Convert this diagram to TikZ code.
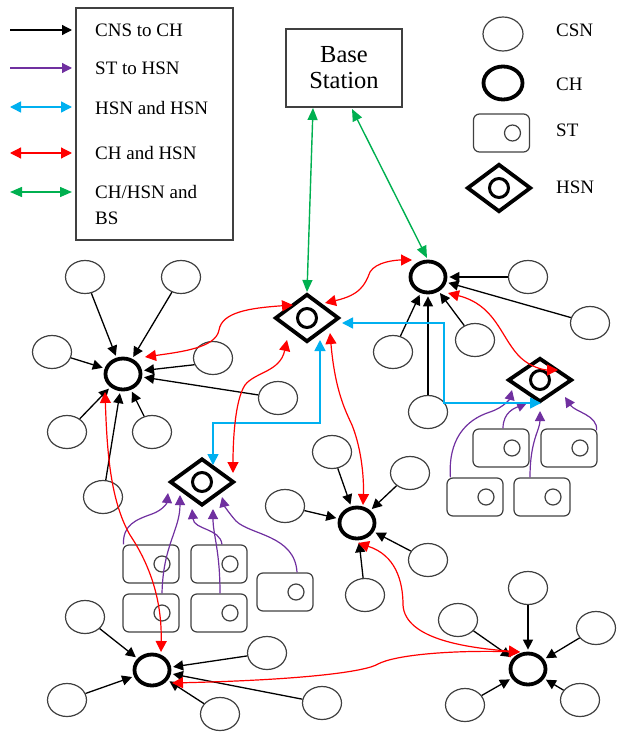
\documentclass[tikz,border=0pt]{standalone}
\usepackage{fontspec}
\setmainfont{Liberation Serif}
\usetikzlibrary{shapes.geometric,arrows.meta}
\definecolor{cred}{HTML}{FF0000}
\definecolor{cblue}{HTML}{00B0F0}
\definecolor{cgreen}{HTML}{00B050}
\definecolor{cpurple}{HTML}{7030A0}
\definecolor{cgray}{HTML}{404040}
\newcommand\stnode[3]{\node[stbox] (#1) at (#2,#3) {};\node[stc] (#1c) at (#2+11,#3) {};}
\newcommand\hsnnode[4]{\node[hsnd,minimum height=#4pt] (#1) at (#2,#3) {};\node[hsnc] (#1c) at (#2,#3) {};}
\begin{document}
\begin{tikzpicture}[x=1pt,y=-1pt,
 csn/.style={ellipse,draw=cgray,line width=1.2pt,minimum width=39pt,minimum height=33pt,inner sep=0pt},
 chn/.style={ellipse,draw=black,line width=3.8pt,minimum width=35pt,minimum height=31pt,inner sep=0pt},
 hsnd/.style={diamond,draw=black,line width=3.8pt,minimum width=64pt,inner sep=0pt},
 hsnc/.style={circle,draw=black,line width=3pt,minimum size=19pt,inner sep=0pt},
 stbox/.style={rectangle,rounded corners=6pt,draw=cgray,line width=1.2pt,minimum width=56pt,minimum height=38pt,inner sep=0pt},
 stc/.style={circle,draw=cgray,line width=1.2pt,minimum size=16pt,inner sep=0pt},
 karr/.style={-{Triangle[length=10pt,width=10pt]},line width=1.3pt,shorten >=2pt},
 parr/.style={-{Triangle[length=10pt,width=10pt]},draw=cpurple,line width=1.2pt},
 rarr/.style={{Triangle[length=11pt,width=11pt]}-{Triangle[length=11pt,width=11pt]},draw=cred,line width=1.2pt},
 barr/.style={{Triangle[length=11pt,width=11pt]}-{Triangle[length=11pt,width=11pt]},draw=cblue,line width=1.6pt},
 garr/.style={{Triangle[length=12pt,width=10pt]}-{Triangle[length=12pt,width=10pt]},draw=cgreen,line width=1.4pt},
 lbl/.style={font=\fontsize{19}{26}\selectfont,anchor=west,inner sep=0pt,align=left},
]
\useasboundingbox (0,0) rectangle (617,733);

% ---------- legend (left) ----------
\node[draw=cgray,line width=1.3pt,minimum width=157pt,minimum height=232pt,inner sep=0pt] (legbox) at (154.5,124) {};
\coordinate (l1a) at (10,30);  \coordinate (l1b) at (72,30);
\coordinate (l2a) at (10,68);  \coordinate (l2b) at (72,68);
\coordinate (l3a) at (10,107); \coordinate (l3b) at (72,107);
\coordinate (l4a) at (10,153); \coordinate (l4b) at (72,153);
\coordinate (l5a) at (10,192); \coordinate (l5b) at (72,192);
\draw[karr,shorten >=0pt] (l1a) -- (l1b);
\draw[parr] (l2a) -- (l2b);
\draw[barr] (l3a) -- (l3b);
\draw[rarr] (l4a) -- (l4b);
\draw[garr] (l5a) -- (l5b);
\node[lbl] (t1) at (95,30) {CNS to CH};
\node[lbl] (t2) at (95,68) {ST to HSN};
\node[lbl] (t3) at (95,108) {HSN and HSN};
\node[lbl] (t4) at (95,153) {CH and HSN};
\node[lbl] (t5) at (95,205) {CH/HSN and\\BS};

% ---------- legend (right) ----------
\node[csn,minimum width=40pt,minimum height=34pt] (lcsn) at (503,34) {};
\node[chn,minimum width=39pt,minimum height=33pt] (lch) at (503,83) {};
\stnode{lst}{501.5}{133}
\hsnnode{lhsn}{499}{188}{48}
\node[lbl] (tcsn) at (556,30) {CSN};
\node[lbl] (tch) at (556,84) {CH};
\node[lbl] (tst) at (556,130) {ST};
\node[lbl] (thsn) at (556,187) {HSN};

% ---------- base station ----------
\node[draw=cgray,line width=1.4pt,minimum width=116pt,minimum height=78pt,inner sep=0pt,align=center,font=\fontsize{24.5}{26}\selectfont] (bs) at (344,68) {Base\\Station};

% ---------- cluster heads ----------
\node[chn] (chA) at (123,374) {};
\node[chn] (chB) at (428,277) {};
\node[chn] (chC) at (357,523) {};
\node[chn] (chD) at (152,670) {};
\node[chn] (chE) at (528,669) {};

% ---------- HSNs ----------
\hsnnode{hsn1}{307}{318}{48}
\hsnnode{hsn2}{540}{380}{44}
\hsnnode{hsn3}{202}{482}{47}

% ---------- STs ----------
\stnode{stL1}{151}{564}
\stnode{stL2}{151}{613}
\stnode{stL3}{219}{564}
\stnode{stL4}{219}{613}
\stnode{stL5}{285}{592}
\stnode{stR1}{501}{448}
\stnode{stR2}{569}{448}
\stnode{stR3}{475}{497}
\stnode{stR4}{542}{497}

% ---------- CSNs ----------
\node[csn] (a1) at (85,277) {};
\node[csn] (a2) at (181,277) {};
\node[csn] (a3) at (52,352) {};
\node[csn] (a4) at (213,358) {};
\node[csn] (a5) at (278,398) {};
\node[csn] (a6) at (67,432) {};
\node[csn] (a7) at (152,432) {};
\node[csn] (a8) at (103,497) {};
\node[csn] (b1) at (528,277) {};
\node[csn] (b2) at (590,323) {};
\node[csn] (b3) at (475,340) {};
\node[csn] (b4) at (393,352) {};
\node[csn] (b5) at (428,412) {};
\node[csn] (c1) at (332,452) {};
\node[csn] (c2) at (410,473) {};
\node[csn] (c3) at (285,506) {};
\node[csn] (c4) at (428,560) {};
\node[csn] (c5) at (365,595) {};
\node[csn] (d1) at (85,617) {};
\node[csn] (d2) at (67,700) {};
\node[csn] (d3) at (220,714) {};
\node[csn] (d4) at (267,653) {};
\node[csn] (d5) at (322,703) {};
\node[csn] (e1) at (528,588) {};
\node[csn] (e2) at (458,620) {};
\node[csn] (e3) at (596,628) {};
\node[csn] (e4) at (465,705) {};
\node[csn] (e5) at (580,700) {};

% ---------- CSN -> CH ----------
\foreach \n in {a1,a2,a3,a5,a6,a7,a8} \draw[karr] (\n) -- (chA);
\draw[karr] (a4.200) -- (chA.10);
\foreach \n in {b1,b2,b3,b4,b5} \draw[karr] (\n) -- (chB);
\foreach \n in {c1,c2,c3,c4,c5} \draw[karr] (\n) -- (chC);
\foreach \n in {d1,d2,d3,d4,d5} \draw[karr] (\n) -- (chD);
\foreach \n in {e1,e2,e3,e4,e5} \draw[karr] (\n) -- (chE);

% ---------- ST -> HSN ----------
\draw[parr] ([shift={(1,0)}]stL1.north west) .. controls (123,525) and (135,520) .. (152,514) .. controls (163,510) and (167,503) .. ([shift={(-34,11)}]hsn3.center);
\draw[parr] ([shift={(11,0)}]stL2.north) .. controls (163,545) and (180,530) .. ([shift={(-22,13)}]hsn3.center);
\draw[parr] ([shift={(3,0)}]stL3.north) .. controls (220,528) and (194,530) .. ([shift={(-10,27)}]hsn3.center);
\draw[parr] ([shift={(1,0)}]stL4.north) .. controls (220,550) and (213,535) .. ([shift={(11,27)}]hsn3.center);
\draw[parr] ([shift={(12,0)}]stL5.north) .. controls (295,535) and (250,535) .. (236,521) .. controls (228,512) and (224,505) .. ([shift={(20,15)}]hsn3.center);
\draw[parr] ([shift={(4,0)}]stR3.north west) .. controls (448,440) and (465,420) .. (490,412) .. controls (505,407) and (510,398) .. ([shift={(-28,10)}]hsn2.center);
\draw[parr] ([shift={(2,0)}]stR1.north) .. controls (503,412) and (515,408) .. ([shift={(-13,23)}]hsn2.center);
\draw[parr] ([shift={(-12,0)}]stR4.north) .. controls (530,440) and (540,430) .. ([shift={(0,31)}]hsn2.center);
\draw[parr] ([shift={(-1,2)}]stR2.north east) .. controls (598,415) and (575,412) .. ([shift={(25,17)}]hsn2.center);

% ---------- HSN <-> HSN (blue) ----------
\coordinate (bc1) at (444,403);
\coordinate (bc2) at (213,423);
\draw[barr] ([shift={(35,5)}]hsn1.center) -| (bc1) -- ([shift={(1,23)}]hsn2.center);
\draw[barr] ([shift={(13,22)}]hsn1.center) |- (bc2) -- ([shift={(11,-17)}]hsn3.center);

% ---------- CH <-> HSN (red) ----------
\draw[rarr] ([shift={(-14,-13)}]hsn1.center) .. controls (250,308) and (222,312) .. (219,330) .. controls (216,348) and (180,352) .. ([shift={(22,-17)}]chA.center);
\draw[rarr] ([shift={(18,-15)}]hsn1.center) .. controls (360,295) and (365,285) .. (370,272) .. controls (376,262) and (395,260) .. ([shift={(-16,-17)}]chB.center);
\draw[rarr] ([shift={(-20,22)}]hsn1.center) .. controls (280,372) and (255,372) .. (245,385) .. controls (235,400) and (233,440) .. ([shift={(31,-9)}]hsn3.center);
\draw[rarr] ([shift={(23,15)}]hsn1.center) .. controls (335,390) and (345,410) .. (352,425) .. controls (362,450) and (364,480) .. ([shift={(6,-18)}]chC.center);
\draw[rarr] ([shift={(20,16)}]chB.center) .. controls (495,305) and (500,335) .. (518,355) .. controls (530,368) and (545,370) .. ([shift={(18,-10)}]hsn2.center);
\draw[rarr] ([shift={(-18,18)}]chA.center) .. controls (107,450) and (110,500) .. (130,535) .. controls (150,565) and (162,600) .. ([shift={(9,-18)}]chD.center);
\draw[rarr] ([shift={(1,20)}]chC.center) .. controls (395,555) and (403,580) .. (403,605) .. controls (405,640) and (470,648) .. ([shift={(-8,-17)}]chE.center);
\draw[rarr] ([shift={(-8,-17)}]chE.center) .. controls (450,650) and (395,655) .. (378,664) .. controls (365,672) and (300,680) .. ([shift={(20,13)}]chD.center);

% ---------- to base station (green) ----------
\draw[garr] ([shift={(-31,40)}]bs.center) -- ([shift={(0,-26)}]hsn1.center);
\draw[garr] ([shift={(8,41)}]bs.center) -- ([shift={(-1,-19)}]chB.center);
\end{tikzpicture}
\end{document}
